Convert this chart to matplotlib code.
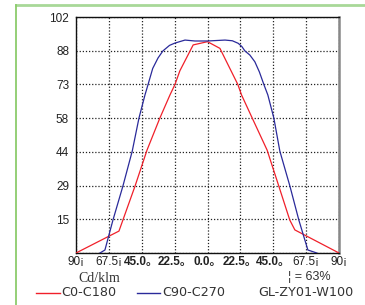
import matplotlib
matplotlib.use("Agg")
import matplotlib.pyplot as plt
from matplotlib.lines import Line2D

plt.rcParams['font.family'] = ['Liberation Sans', 'Noto Sans CJK SC', 'DejaVu Sans']

# ---- data ----
red_angles = [-90, -60.6, -49.6, -41.4, -32.6, -25.7, -22.3, -18.9, -9.8, 0, 8.5, 20.8, 23.3, 30.6, 40.8, 48.8, 56.3, 59.8, 90]
red_values = [0, 9.5, 29.0, 44.6, 58.5, 68.5, 73.0, 79.0, 90.2, 91.6, 88.7, 73.0, 68.5, 58.5, 44.6, 29.0, 14.3, 10.0, 0]

blue_angles = [-73.6, -70.2, -64.7, -57.9, -51.5, -46.9, -42.8, -40.7, -37.5, -33.9, -30.5, -26.0, -22.3, -15.4, -8.6, 0,
               6.0, 12.0, 17.0, 21.0, 23.5, 25.6, 29.0, 32.4, 35.5, 38.6, 41.3, 45.4, 49.5, 56.4, 62.5, 68.7, 74.8]
blue_values = [0, 1.3, 14.3, 29.0, 44.2, 58.5, 68.5, 73.0, 80.0, 84.5, 87.6, 90.0, 91.0, 92.3, 91.9, 91.9,
               92.1, 92.3, 92.0, 90.9, 89.5, 87.6, 85.8, 82.9, 78.5, 73.0, 68.5, 58.5, 44.2, 29.0, 14.3, 1.3, 0]

x_ticks = [-90, -67.5, -45, -22.5, 0, 22.5, 45, 67.5, 90]
x_labels = ["90¡", "67.5¡", "45.0。", "22.5。", "0.0。", "22.5。", "45.0。", "67.5¡", "90¡"]
x_bold = [False, False, True, True, True, True, True, False, False]

y_max = 102.3
y_labels = ["", "15", "29", "44", "58", "73", "88", "102"]

series_names = ["C0-C180", "C90-C270"]
model_name = "GL-ZY01-W100"
unit_label = "Cd/klm"
eff_label = "¦ = 63%"

# ---- figure ----
W, H = 365, 305
fig = plt.figure(figsize=(W / 100, H / 100), dpi=100)
fig.patch.set_facecolor('white')

ax = fig.add_axes([76 / W, 1 - 253 / H, (339 - 76) / W, (253 - 17) / H])
ax.set_xlim(-90, 90)
ax.set_ylim(0, y_max)

red = '#f0202a'
blue = '#2a2a9a'
ax.plot(red_angles, red_values, color=red, lw=0.9, zorder=3)
ax.plot(blue_angles, blue_values, color=blue, lw=0.9, zorder=3)

y_ticks = [y_max * k / 7 for k in range(8)]
ax.set_yticks(y_ticks)
ax.set_yticklabels(y_labels, fontsize=8.5, color='#222222')
ax.set_xticks(x_ticks)
ax.set_xticklabels(x_labels, fontsize=8.5, color='#222222')
for lab, b in zip(ax.get_xticklabels(), x_bold):
    if b:
        lab.set_fontweight('bold')
ax.tick_params(axis='both', length=0)
ax.tick_params(axis='x', pad=2)
ax.tick_params(axis='y', pad=5)

ax.grid(True, color='#222222', linestyle=(0, (1, 1.5)), linewidth=0.9)
for s in ['left', 'bottom', 'top']:
    ax.spines[s].set_color('#111111')
    ax.spines[s].set_linewidth(1.0)
ax.spines['right'].set_color('#888888')
ax.spines['right'].set_linewidth(1.8)

# green frame
fig.add_artist(Line2D([16 / W, 1.0], [1 - 5 / H, 1 - 5 / H], color='#a8d898', lw=2.0))
fig.add_artist(Line2D([16 / W, 16 / W], [1 - 5 / H, 0.0], color='#8ccc6c', lw=1.3))

# annotations
fig.text(99 / W, 1 - 278 / H, unit_label, family='Liberation Serif', fontsize=10,
         ha='center', va='center', color='#333333')
fig.text(288 / W, 1 - 277 / H, eff_label, fontsize=9, ha='left', va='center', color='#333333')

# legend row
ly = 1 - 293 / H
fs = 9.2
fig.add_artist(Line2D([36 / W, 60 / W], [ly, ly], color=red, lw=1.0))
fig.text(61 / W, ly, series_names[0], family='DejaVu Sans', fontsize=fs, ha='left', va='center', color='#333333')
fig.add_artist(Line2D([137 / W, 160 / W], [ly, ly], color=blue, lw=1.0))
fig.text(162 / W, ly, series_names[1], family='DejaVu Sans', fontsize=fs, ha='left', va='center', color='#333333')
fig.text(258 / W, ly, model_name, family='DejaVu Sans', fontsize=fs, ha='left', va='center', color='#333333')

fig.savefig('out.png', dpi=100, facecolor='white')
